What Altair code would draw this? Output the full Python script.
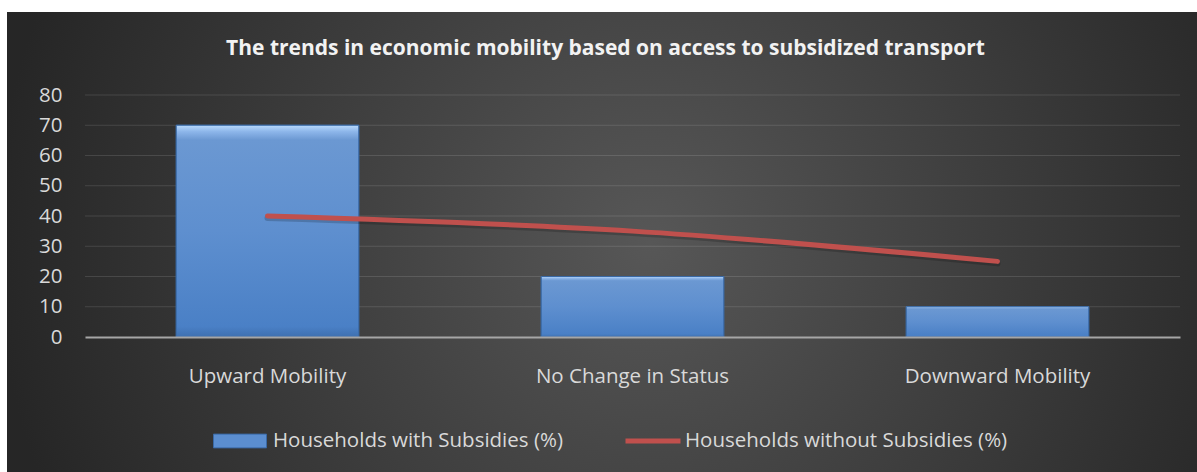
import altair as alt
import pandas as pd

categories = ["Upward Mobility", "No Change in Status", "Downward Mobility"]
with_subsidies = [70, 20, 10]
without_subsidies = [40, 35, 25]
y_tick_values = [0, 10, 20, 30, 40, 50, 60, 70, 80]
grid_values = [10, 20, 30, 40, 50, 60, 70, 80]
series_bar = "Households with Subsidies (%)"
series_line = "Households without Subsidies (%)"
title_text = "The trends in economic mobility based on access to subsidized transport"

df = pd.DataFrame({
    "category": categories,
    "with": with_subsidies,
    "without": without_subsidies,
    "s_bar": [series_bar] * 3,
    "s_line": [series_line] * 3,
})
grid_df = pd.DataFrame({"v": grid_values})

W, H = 1095, 242
FONT = "Open Sans"
FS = 20.5
LABEL_COLOR = "#d9d9d9"

x_scale = alt.Scale(domain=categories, paddingInner=0.5, paddingOuter=0.25)
y_scale = alt.Scale(domain=[0, 80], nice=False, zero=True)

x_axis = alt.Axis(title=None, labelAngle=0, ticks=False, grid=False, domain=True,
                  domainColor="#a6a6a6", domainWidth=2, labelFont=FONT, labelFontSize=FS,
                  labelColor=LABEL_COLOR, labelPadding=29, labelLimit=500, zindex=1)
y_axis = alt.Axis(title=None, ticks=False, grid=False, domain=False, values=y_tick_values,
                  labelFont=FONT, labelFontSize=FS, labelColor=LABEL_COLOR, labelPadding=23,
                  zindex=1)

bg = alt.Chart(alt.Data(values=[{"a": 1}])).mark_rect(
    fill=alt.RadialGradient(
        gradient="radial",
        stops=[alt.GradientStop(color="#575757", offset=0),
               alt.GradientStop(color="#3c3c3c", offset=0.55),
               alt.GradientStop(color="#262626", offset=1)],
        x1=0.54, y1=0.5, r1=0, x2=0.54, y2=0.5, r2=0.55),
).encode(x=alt.value(-78), x2=alt.value(1112), y=alt.value(-83), y2=alt.value(377))

grid = alt.Chart(grid_df).mark_rule(color="#ffffff", opacity=0.12, strokeWidth=1).encode(
    y=alt.Y("v:Q", scale=y_scale, axis=y_axis)
)

bars = alt.Chart(df).mark_bar(stroke="#3a69a5", strokeWidth=1).encode(
    x=alt.X("category:N", scale=x_scale, sort=categories, axis=x_axis),
    y=alt.Y("with:Q", scale=y_scale, axis=y_axis),
    fill=alt.Fill("s_bar:N", scale=alt.Scale(domain=[series_bar], range=["#5b8ed0"]),
                  legend=alt.Legend(title=None, orient="none", legendX=128, legendY=319,
                                    padding=0, symbolType="M-1,-0.26H1V0.26H-1Z",
                                    symbolSize=2809, symbolStrokeColor="#3a69a5",
                                    symbolStrokeWidth=1, labelFont=FONT, labelFontSize=FS,
                                    labelColor=LABEL_COLOR, labelOffset=6, labelLimit=600)),
)

bars_grad = alt.Chart(df).mark_bar(
    stroke="#3a69a5", strokeWidth=1,
    fill=alt.LinearGradient(
        gradient="linear",
        stops=[alt.GradientStop(color="#b9dafc", offset=0),
               alt.GradientStop(color="#8db6ea", offset=0.03),
               alt.GradientStop(color="#6b98d2", offset=0.07),
               alt.GradientStop(color="#5e8fcf", offset=0.5),
               alt.GradientStop(color="#4a80c6", offset=0.95),
               alt.GradientStop(color="#3e70b0", offset=1)],
        x1=0, x2=0, y1=0, y2=1),
).encode(
    x=alt.X("category:N", scale=x_scale, sort=categories, axis=x_axis),
    y=alt.Y("with:Q", scale=y_scale, axis=y_axis),
)

shadow = alt.Chart(df).mark_line(
    interpolate="monotone", color="#000000", opacity=0.18, strokeWidth=6,
    strokeCap="round", yOffset=2
).encode(
    x=alt.X("category:N", scale=x_scale, sort=categories, axis=x_axis),
    y=alt.Y("without:Q", scale=y_scale, axis=y_axis),
)

line = alt.Chart(df).mark_line(interpolate="monotone", strokeWidth=5, strokeCap="round").encode(
    x=alt.X("category:N", scale=x_scale, sort=categories, axis=x_axis),
    y=alt.Y("without:Q", scale=y_scale, axis=y_axis),
    stroke=alt.Stroke("s_line:N", scale=alt.Scale(domain=[series_line], range=["#c0504d"]),
                      legend=alt.Legend(title=None, orient="none", legendX=538, legendY=316,
                                        padding=0, symbolType="stroke", symbolSize=3025,
                                        symbolStrokeWidth=5, labelFont=FONT, labelFontSize=FS,
                                        labelColor=LABEL_COLOR, labelOffset=2, labelLimit=600)),
)

chart = alt.layer(bg, grid, bars, bars_grad, shadow, line).properties(
    width=W, height=H,
    autosize="none",
    padding={"left": 85, "top": 95, "right": 17, "bottom": 135},
    background="white",
    title=alt.TitleParams(text=title_text, font=FONT, fontSize=21, fontWeight="bold",
                          color="#f2f2f2", anchor="middle", frame="group", dx=-27,
                          offset=-47),
).configure_view(stroke=None)

chart.save("out.html", embed_options={"renderer": "svg", "actions": False})
